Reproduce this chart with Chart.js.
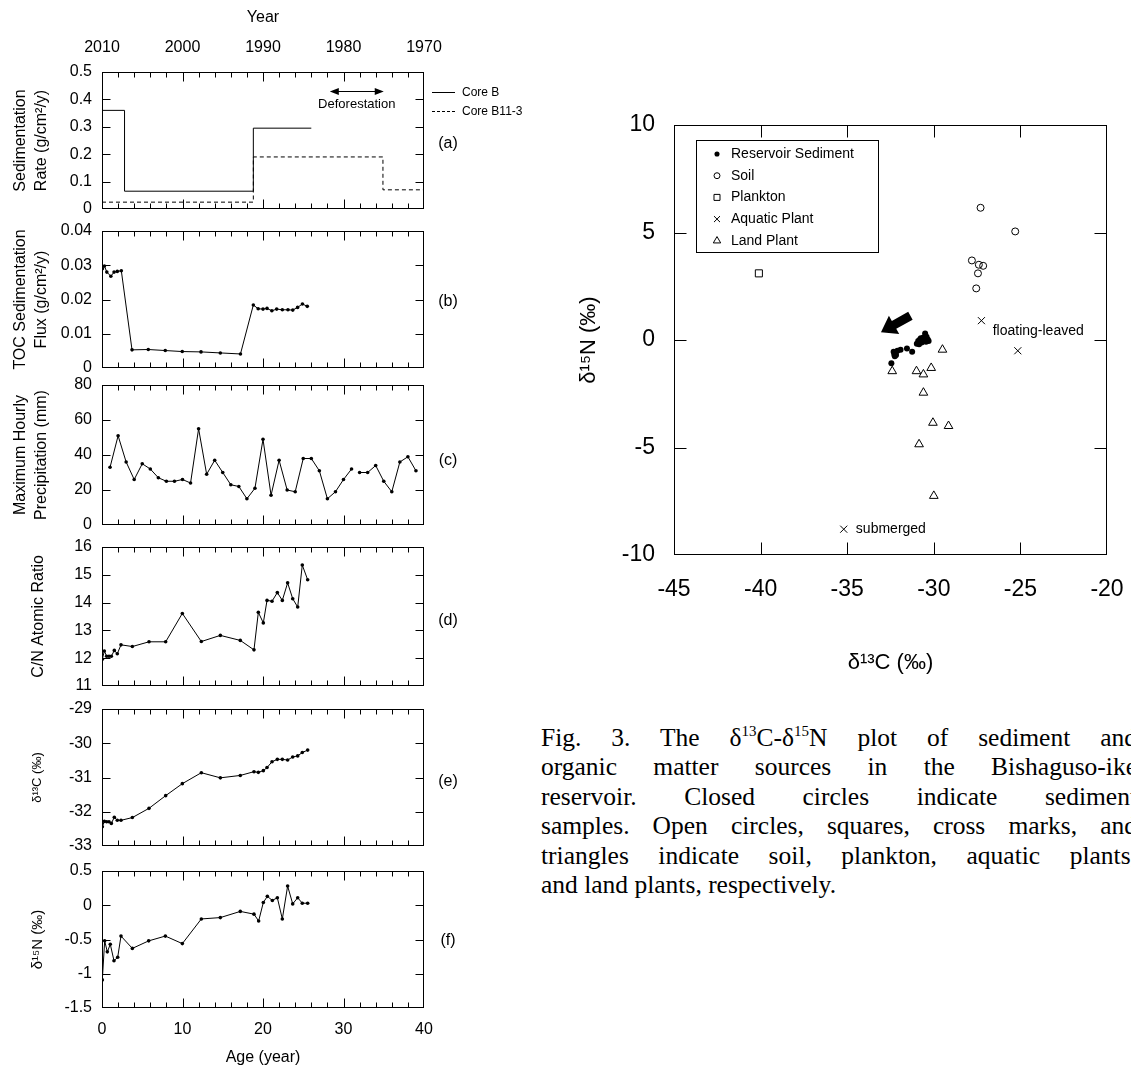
<!DOCTYPE html>
<html>
<head>
<meta charset="utf-8">
<script src="https://cdn.jsdelivr.net/npm/chart.js"></script>
<style>
  body { margin: 0; width: 1131px; height: 1068px; overflow: hidden; background: #fff; position: relative;
         font-family: "Liberation Sans", Arial, sans-serif; color: #000; }
  canvas { position: absolute; }
  .tag { position: absolute; font-size: 16px; line-height: 16px; transform: translate(-50%, -50%); white-space: nowrap; }
  .leg { position: absolute; font-size: 12px; line-height: 12px; white-space: nowrap; }
  .leg i { display: inline-block; width: 23px; vertical-align: middle; margin-right: 7px; border-top: 1px solid #000; }
  .leg i.dash { border-top: 1px dashed #000; }
  #caption { position: absolute; left: 541px; top: 723px; width: 596px; font-family: "Liberation Serif", "Times New Roman", serif;
             font-size: 25.5px; line-height: 29.4px; }
  #caption div { text-align: justify; text-align-last: justify; white-space: nowrap; }
  #caption div.last { text-align-last: left; }
  #caption sup { font-size: 15px; line-height: 0; vertical-align: 10px; }
</style>
</head>
<body>
<canvas id="pa" width="458" height="231" style="left:0;top:0"></canvas>
<canvas id="pb" width="458" height="181" style="left:0;top:209px"></canvas>
<canvas id="pc" width="458" height="184" style="left:0;top:363px"></canvas>
<canvas id="pd" width="458" height="183" style="left:0;top:525px"></canvas>
<canvas id="pe" width="458" height="181" style="left:0;top:687px"></canvas>
<canvas id="pf" width="458" height="219" style="left:0;top:849px"></canvas>
<canvas id="iso" width="587" height="610" style="left:560px;top:90px"></canvas>

<div class="tag" style="left:448px;top:143px">(a)</div>
<div class="tag" style="left:448px;top:301px">(b)</div>
<div class="tag" style="left:448px;top:460px">(c)</div>
<div class="tag" style="left:448px;top:620px">(d)</div>
<div class="tag" style="left:448px;top:781px">(e)</div>
<div class="tag" style="left:448px;top:940px">(f)</div>

<div class="leg" style="left:432px;top:86px"><i></i>Core B</div>
<div class="leg" style="left:432px;top:105px"><i class="dash"></i>Core B11-3</div>

<div id="caption">
  <div>Fig. 3. The δ<sup>13</sup>C-δ<sup>15</sup>N plot of sediment and</div>
  <div>organic matter sources in the Bishaguso-ike</div>
  <div>reservoir. Closed circles indicate sediment</div>
  <div>samples. Open circles, squares, cross marks, and</div>
  <div>triangles indicate soil, plankton, aquatic plants,</div>
  <div class="last">and land plants, respectively.</div>
</div>

<script>
// ---- tick labels ----
const ageTicks = [0, 10, 20, 30, 40];
const yearTicks = [2010, 2000, 1990, 1980, 1970];
const rateTicks = [0, 0.1, 0.2, 0.3, 0.4, 0.5];
const tocTicks = [0, 0.01, 0.02, 0.03, 0.04];
const precipTicks = [0, 20, 40, 60, 80];
const cnTicks = [11, 12, 13, 14, 15, 16];
const d13cTicks = [-33, -32, -31, -30, -29];
const d15nTicks = [-1.5, -1, -0.5, 0, 0.5];
const isoXTicks = [-45, -40, -35, -30, -25, -20];
const isoYTicks = [-10, -5, 0, 5, 10];

// ---- (a) sedimentation rate, step values ----
const coreBAge = [0, 2.8, 18.8, 26];
const coreBRate = [0.36, 0.065, 0.295, 0.295];
const coreB113Age = [0, 18.8, 34.9, 40];
const coreB113Rate = [0.025, 0.19, 0.07, 0.07];
const deforestAge = [28.3, 35];

// ---- (b) TOC sedimentation flux ----
const tocAge = [0.05, 0.3, 0.6, 1.1, 1.5, 1.9, 2.4, 3.73, 5.75, 7.86, 9.97, 12.3, 14.7, 17.2,
                18.8, 19.4, 20.0, 20.5, 21.1, 21.7, 22.4, 23.1, 23.7, 24.3, 24.9, 25.5];
const tocFlux = [0.029, 0.0298, 0.028, 0.0268, 0.028, 0.0282, 0.0284, 0.0053, 0.0054, 0.0051, 0.0048, 0.0047, 0.0044, 0.0041,
                 0.0184, 0.0173, 0.0172, 0.0174, 0.0167, 0.0172, 0.017, 0.017, 0.0169, 0.0177, 0.0187, 0.018];

// ---- (c) maximum hourly precipitation ----
const precipAge = [1, 2, 3, 4, 5, 6, 7, 8, 9, 10, 11, 12, 13, 14, 15, 16, 17, 18, 19, 20,
                   21, 22, 23, 24, 25, 26, 27, 28, 29, 30, 31, 32, 33, 34, 35, 36, 37, 38, 39];
const precipMm = [33, 51, 36, 26, 35, 32, 27, 25, 25, 26, 24, 55, 29, 37, 30, 23, 22, 15, 21, 49,
                  17, 37, 20, 19, 38, 38, 31, 15, 19, 26, 32, 30, 30, 34, 25, 19, 36, 39, 31];
const precipGapAfter = 31; // line is broken between 31 and 32

// ---- (d) C/N, (e) d13C ----
const coreAge = [0.04, 0.29, 0.58, 0.87, 1.16, 1.53, 1.9, 2.36, 3.77, 5.84, 7.91, 9.98, 12.34, 14.7, 17.18,
                 18.88, 19.42, 20.04, 20.5, 21.12, 21.78, 22.4, 23.06, 23.69, 24.31, 24.88, 25.55];
const cnRatio = [11.96, 12.26, 12.07, 12.07, 12.07, 12.28, 12.16, 12.48, 12.42, 12.59, 12.59, 13.61, 12.6, 12.82, 12.64,
                 12.3, 13.65, 13.27, 14.08, 14.05, 14.36, 14.08, 14.71, 14.14, 13.84, 15.35, 14.82];
const d13c = [-32.44, -32.28, -32.29, -32.29, -32.34, -32.16, -32.25, -32.25, -32.17, -31.9, -31.53, -31.18, -30.86, -31.01, -30.94,
              -30.83, -30.85, -30.8, -30.71, -30.54, -30.47, -30.47, -30.49, -30.4, -30.37, -30.27, -30.2];

// ---- (f) d15N ----
const nAge = [0.04, 0.33, 0.66, 1.03, 1.49, 1.95, 2.36, 3.77, 5.8, 7.87, 9.98, 12.34, 14.7, 17.18,
              18.88, 19.46, 20.04, 20.54, 21.16, 21.78, 22.4, 23.06, 23.69, 24.31, 24.88, 25.55];
const d15n = [-1.09, -0.52, -0.68, -0.57, -0.81, -0.76, -0.45, -0.63, -0.52, -0.45, -0.56, -0.2, -0.18, -0.09,
              -0.13, -0.23, 0.04, 0.13, 0.07, 0.11, -0.2, 0.28, 0.02, 0.11, 0.03, 0.03];

// ---- right plot: d13C vs d15N ----
const sedC = [-32.45, -32.32, -32.28, -32.25, -32.22, -32.18, -32.1, -31.92, -31.55, -31.25, -30.98, -30.9, -30.85,
              -30.8, -30.75, -30.7, -30.65, -30.6, -30.55, -30.5, -30.48, -30.45, -30.42, -30.4, -30.35, -30.3];
const sedN = [-1.08, -0.55, -0.68, -0.75, -0.62, -0.7, -0.5, -0.45, -0.4, -0.55, -0.17, -0.05, -0.2,
              0.02, 0.08, -0.12, 0.0, 0.12, -0.05, 0.3, 0.05, -0.08, 0.15, -0.02, 0.02, -0.05];
const soilC = [-27.3, -25.3, -27.8, -27.4, -27.15, -27.45, -27.55];
const soilN = [6.15, 5.05, 3.7, 3.5, 3.45, 3.1, 2.4];
const planktonC = [-40.1];
const planktonN = [3.1];
const aquaticC = [-27.25, -25.15, -35.2];
const aquaticN = [0.9, -0.5, -8.8];
const landC = [-29.5, -32.4, -31.0, -30.6, -30.15, -30.6, -30.05, -29.15, -30.85, -30.0];
const landN = [-0.45, -1.45, -1.45, -1.6, -1.3, -2.45, -3.85, -4.0, -4.85, -7.25];

const FONT = '"Liberation Sans", Arial, sans-serif';
const pts = (xs, ys) => xs.map((v, i) => ({ x: v, y: ys[i] }));
const setTicks = arr => s => { s.ticks = arr.map(v => ({ value: v })); };

// box with inward ticks on all four sides
const frameTicks = {
  id: 'frameTicks',
  afterDatasetsDraw(chart) {
    const { ctx, chartArea: a, scales } = chart;
    ctx.save();
    ctx.strokeStyle = '#000';
    ctx.lineWidth = 1;
    const L = Math.round(a.left) + 0.5, R = Math.round(a.right) - 0.5;
    const T = Math.round(a.top) + 0.5, B = Math.round(a.bottom) - 0.5;
    ctx.strokeRect(L, T, R - L, B - T);
    ctx.beginPath();
    for (let v = 2; v < 40; v += 2) {
      const px = Math.round(scales.x.getPixelForValue(v)) + 0.5;
      const len = v % 10 === 0 ? 9 : 5;
      ctx.moveTo(px, B); ctx.lineTo(px, B - len);
      ctx.moveTo(px, T); ctx.lineTo(px, T + len);
    }
    scales.y.ticks.forEach(t => {
      const py = Math.round(scales.y.getPixelForValue(t.value)) + 0.5;
      if (py <= T + 1 || py >= B - 1) return;
      ctx.moveTo(L, py); ctx.lineTo(L + 8, py);
      ctx.moveTo(R, py); ctx.lineTo(R - 8, py);
    });
    ctx.stroke();
    ctx.restore();
  }
};

const deforest = {
  id: 'deforest',
  afterDatasetsDraw(chart) {
    const { ctx, scales: { x, y } } = chart;
    const x1 = x.getPixelForValue(deforestAge[0]), x2 = x.getPixelForValue(deforestAge[1]);
    const yy = Math.round(y.getPixelForValue(0.43)) + 0.5;
    ctx.save();
    ctx.strokeStyle = '#000'; ctx.fillStyle = '#000'; ctx.lineWidth = 1;
    ctx.beginPath(); ctx.moveTo(x1 + 4, yy); ctx.lineTo(x2 - 4, yy); ctx.stroke();
    ctx.beginPath();
    ctx.moveTo(x1, yy); ctx.lineTo(x1 + 9, yy - 3.5); ctx.lineTo(x1 + 9, yy + 3.5); ctx.closePath();
    ctx.moveTo(x2, yy); ctx.lineTo(x2 - 9, yy - 3.5); ctx.lineTo(x2 - 9, yy + 3.5); ctx.closePath();
    ctx.fill();
    ctx.font = '13px ' + FONT;
    ctx.textAlign = 'center'; ctx.textBaseline = 'middle';
    ctx.fillText('Deforestation', (x1 + x2) / 2, y.getPixelForValue(0.38));
    ctx.restore();
  }
};

function leftPanel(id, o) {
  const scales = {
    x: {
      type: 'linear', min: 0, max: 40, display: !!o.showAge,
      afterBuildTicks: setTicks(ageTicks),
      afterFit: s => { s.height = o.showAge ? 60 : 0; },
      grid: { display: false, drawTicks: false }, border: { display: false },
      ticks: { font: { family: FONT, size: 16 }, color: '#000', padding: 12, maxRotation: 0, callback: v => String(v) },
      title: { display: true, text: 'Age (year)', font: { family: FONT, size: 16 }, color: '#000', padding: { top: 0, bottom: 1 } }
    },
    y: {
      type: 'linear', min: o.yMin, max: o.yMax,
      afterBuildTicks: setTicks(o.yTicks),
      afterFit: s => { s.width = 102; },
      grid: { display: false, drawTicks: false }, border: { display: false },
      ticks: { font: { family: FONT, size: 16 }, color: '#000', padding: 10, callback: v => String(v) },
      title: { display: true, text: o.title, font: { family: FONT, size: o.titleSize || 16, lineHeight: 1.3 }, color: '#000',
               padding: { top: o.titlePad, bottom: 0 } }
    }
  };
  if (o.yearAxis) {
    scales.x2 = {
      type: 'linear', position: 'top', min: 1970, max: 2010, reverse: true,
      afterBuildTicks: setTicks(yearTicks),
      afterFit: s => { s.height = 72; },
      grid: { display: false, drawTicks: false }, border: { display: false },
      ticks: { font: { family: FONT, size: 16 }, color: '#000', padding: 15, maxRotation: 0, callback: v => String(v) },
      title: { display: true, text: 'Year', font: { family: FONT, size: 16 }, color: '#000', padding: { top: 8, bottom: 0 } }
    };
  }
  return new Chart(document.getElementById(id), {
    type: 'line',
    data: { datasets: o.datasets },
    options: {
      responsive: false, animation: false,
      layout: { padding: { left: 0, right: 34, top: o.padTop, bottom: o.padBottom } },
      plugins: { legend: { display: false }, tooltip: { enabled: false } },
      scales
    },
    plugins: [frameTicks].concat(o.plugins || [])
  });
}

const dotLine = data => ({
  data, borderColor: '#000', borderWidth: 1, tension: 0,
  pointRadius: 1.8, pointBackgroundColor: '#000', pointBorderWidth: 0
});

// (a)
leftPanel('pa', {
  yMin: 0, yMax: 0.5, yTicks: rateTicks, title: ['Sedimentation', 'Rate (g/cm²/y)'], titlePad: 10,
  padTop: 0, padBottom: 22, yearAxis: true, plugins: [deforest],
  datasets: [
    { data: pts(coreBAge, coreBRate), stepped: 'before', borderColor: '#000', borderWidth: 1, pointRadius: 0 },
    { data: pts(coreB113Age, coreB113Rate), stepped: 'before', borderColor: '#000', borderWidth: 1, borderDash: [4, 3], pointRadius: 0 }
  ]
});
// (b)
leftPanel('pb', {
  yMin: 0, yMax: 0.04, yTicks: tocTicks, title: ['TOC Sedimentation', 'Flux (g/cm²/y)'], titlePad: 10,
  padTop: 22, padBottom: 22, datasets: [dotLine(pts(tocAge, tocFlux))]
});
// (c)
const precipData = [];
precipAge.forEach((a, i) => {
  precipData.push({ x: a, y: precipMm[i] });
  if (a === precipGapAfter) precipData.push({ x: a + 0.5, y: null });
});
leftPanel('pc', {
  yMin: 0, yMax: 80, yTicks: precipTicks, title: ['Maximum Hourly', 'Precipitation (mm)'], titlePad: 10,
  padTop: 22, padBottom: 22, datasets: [dotLine(precipData)]
});
// (d)
leftPanel('pd', {
  yMin: 11, yMax: 16, yTicks: cnTicks, title: 'C/N Atomic Ratio', titlePad: 28,
  padTop: 22, padBottom: 22, datasets: [dotLine(pts(coreAge, cnRatio))]
});
// (e)
leftPanel('pe', {
  yMin: -33, yMax: -29, yTicks: d13cTicks, title: 'δ¹³C (‰)', titleSize: 13, titlePad: 29,
  padTop: 22, padBottom: 22, datasets: [dotLine(pts(coreAge, d13c))]
});
// (f)
leftPanel('pf', {
  yMin: -1.5, yMax: 0.5, yTicks: d15nTicks, title: 'δ¹⁵N (‰)', titleSize: 15, titlePad: 28,
  padTop: 22, padBottom: 0, showAge: true, datasets: [dotLine(pts(nAge, d15n))]
});

// ---- right plot ----
const isoSets = [
  { label: 'Reservoir Sediment', data: pts(sedC, sedN), pointStyle: 'circle', pointRadius: 3,
    pointBackgroundColor: '#000', pointBorderColor: '#000', pointBorderWidth: 0 },
  { label: 'Soil', data: pts(soilC, soilN), pointStyle: 'circle', pointRadius: 3.5,
    pointBackgroundColor: 'rgba(0,0,0,0)', pointBorderColor: '#000', pointBorderWidth: 1 },
  { label: 'Plankton', data: pts(planktonC, planktonN), pointStyle: 'rect', pointRadius: 5,
    pointBackgroundColor: 'rgba(0,0,0,0)', pointBorderColor: '#000', pointBorderWidth: 1 },
  { label: 'Aquatic Plant', data: pts(aquaticC, aquaticN), pointStyle: 'crossRot', pointRadius: 5,
    pointBackgroundColor: 'rgba(0,0,0,0)', pointBorderColor: '#000', pointBorderWidth: 1 },
  { label: 'Land Plant', data: pts(landC, landN), pointStyle: 'triangle', pointRadius: 5,
    pointBackgroundColor: 'rgba(0,0,0,0)', pointBorderColor: '#000', pointBorderWidth: 1 }
];

const isoDecor = {
  id: 'isoDecor',
  afterDatasetsDraw(chart) {
    const { ctx, chartArea: a, scales: { x, y } } = chart;
    ctx.save();
    ctx.strokeStyle = '#000'; ctx.fillStyle = '#000'; ctx.lineWidth = 1;
    const L = Math.round(a.left) + 0.5, R = Math.round(a.right) - 0.5;
    const T = Math.round(a.top) + 0.5, B = Math.round(a.bottom) - 0.5;
    ctx.strokeRect(L, T, R - L, B - T);
    ctx.beginPath();
    x.ticks.forEach(t => {
      const px = Math.round(x.getPixelForValue(t.value)) + 0.5;
      if (px <= L + 1 || px >= R - 1) return;
      ctx.moveTo(px, B); ctx.lineTo(px, B - 12);
      ctx.moveTo(px, T); ctx.lineTo(px, T + 12);
    });
    y.ticks.forEach(t => {
      const py = Math.round(y.getPixelForValue(t.value)) + 0.5;
      if (py <= T + 1 || py >= B - 1) return;
      ctx.moveTo(L, py); ctx.lineTo(L + 12, py);
      ctx.moveTo(R, py); ctx.lineTo(R - 12, py);
    });
    ctx.stroke();

    // legend box
    const lx = a.left + 22, ly = a.top + 15, lw = 182, lh = 112;
    ctx.strokeRect(Math.round(lx) + 0.5, Math.round(ly) + 0.5, lw, lh);
    ctx.font = '14px ' + FONT;
    ctx.textBaseline = 'middle'; ctx.textAlign = 'left';
    isoSets.forEach((ds, i) => {
      const ry = ly + 14 + i * 21.7;
      ctx.fillStyle = ds.pointBackgroundColor;
      ctx.strokeStyle = '#000';
      Chart.helpers.drawPoint(ctx, { pointStyle: ds.pointStyle, radius: ds.pointRadius * 0.85, rotation: 0,
                                     borderWidth: ds.pointBorderWidth }, lx + 21, ry);
      ctx.fillStyle = '#000';
      ctx.fillText(ds.label, lx + 35, ry);
    });

    // annotations
    ctx.font = '14px ' + FONT;
    ctx.fillText('floating-leaved', x.getPixelForValue(-26.6), y.getPixelForValue(0.39));
    ctx.fillText('submerged', x.getPixelForValue(-34.5), y.getPixelForValue(-8.78));

    // thick arrow pointing to the sediment cluster
    const tx = x.getPixelForValue(-33.05), ty = y.getPixelForValue(0.36);
    const sx = x.getPixelForValue(-31.35), sy = y.getPixelForValue(1.13);
    const ang = Math.atan2(ty - sy, tx - sx), len = Math.hypot(tx - sx, ty - sy);
    ctx.translate(sx, sy); ctx.rotate(ang);
    ctx.beginPath();
    ctx.moveTo(0, -4.5); ctx.lineTo(len - 15, -4.5); ctx.lineTo(len - 15, -10.5); ctx.lineTo(len, 0);
    ctx.lineTo(len - 15, 10.5); ctx.lineTo(len - 15, 4.5); ctx.lineTo(0, 4.5); ctx.closePath();
    ctx.fill();
    ctx.restore();
  }
};

new Chart(document.getElementById('iso'), {
  type: 'scatter',
  data: { datasets: isoSets },
  options: {
    responsive: false, animation: false,
    layout: { padding: { left: 0, right: 40, top: 35, bottom: 0 } },
    plugins: { legend: { display: false }, tooltip: { enabled: false } },
    scales: {
      x: {
        type: 'linear', min: -45, max: -20,
        afterBuildTicks: setTicks(isoXTicks),
        afterFit: s => { s.height = 145; },
        grid: { display: false, drawTicks: false }, border: { display: false },
        ticks: { font: { family: FONT, size: 23 }, color: '#000', padding: 21, maxRotation: 0, callback: v => String(v) },
        title: { display: true, text: 'δ¹³C (‰)', font: { family: FONT, size: 22 }, color: '#000', padding: { top: 0, bottom: 24 } }
      },
      y: {
        type: 'linear', min: -10, max: 10,
        afterBuildTicks: setTicks(isoYTicks),
        afterFit: s => { s.width = 114; },
        grid: { display: false, drawTicks: false }, border: { display: false },
        ticks: { font: { family: FONT, size: 23 }, color: '#000', padding: 19, callback: v => String(v) },
        title: { display: true, text: 'δ¹⁵N (‰)', font: { family: FONT, size: 22 }, color: '#000', padding: { top: 16, bottom: 0 } }
      }
    }
  },
  plugins: [isoDecor]
});
</script>
</body>
</html>
